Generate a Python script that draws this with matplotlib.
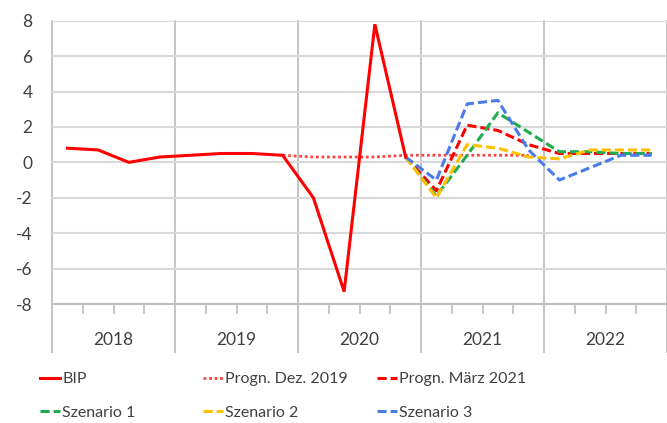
import numpy as np
import matplotlib.pyplot as plt

plt.rcParams['font.family'] = ['Lato', 'DejaVu Sans']
plt.rcParams['axes.unicode_minus'] = False

# Daten (Quartale 2018Q1 - 2022Q4)
years = ['2018', '2019', '2020', '2021', '2022']
bip = [0.8, 0.7, 0.0, 0.3, 0.4, 0.5, 0.5, 0.4, -2.0, -7.3, 7.8, 0.3]          # 2018Q1-2020Q4
progn_dez2019 = [0.4, 0.3, 0.3, 0.3, 0.4, 0.4, 0.4, 0.4, 0.4]                 # 2019Q4-2021Q4
progn_mar2021 = [0.3, -1.6, 2.1, 1.8, 1.0, 0.5, 0.5, 0.5, 0.5]                # 2020Q4-2022Q4
szenario1 = [0.3, -1.9, 0.4, 2.8, 1.7, 0.6, 0.6, 0.5, 0.5]
szenario2 = [0.3, -2.0, 1.0, 0.8, 0.3, 0.2, 0.7, 0.7, 0.7]
szenario3 = [0.3, -1.0, 3.3, 3.5, 0.7, -1.0, -0.3, 0.4, 0.4]

x_all = np.arange(20) + 0.5
x_bip = x_all[:12]
x_dez = x_all[7:16]
x_fc = x_all[11:20]

fig = plt.figure(figsize=(6.67, 4.23), dpi=100)
ax = fig.add_axes([52 / 667, 1 - 304 / 423, 1 - 52 / 667, (304 - 20.7) / 423])

lw = 2.2
dash = (3.0, 1.3)
red = '#FF0000'
l_dez, = ax.plot(x_dez, progn_dez2019, color='#FF4040', lw=2.0, linestyle=(0, (1, 1)))
l_mar, = ax.plot(x_fc, progn_mar2021, color=red, lw=lw, linestyle=(0, dash))
l_s1, = ax.plot(x_fc, szenario1, color='#1FAE4F', lw=lw, linestyle=(0, dash))
l_s2, = ax.plot(x_fc, szenario2, color='#FFC000', lw=lw, linestyle=(0, dash))
l_s3, = ax.plot(x_fc, szenario3, color='#4A7BEA', lw=lw, linestyle=(0, dash))
l_bip, = ax.plot(x_bip, bip, color=red, lw=lw, solid_joinstyle='miter')

ax.set_xlim(0, 20)
ax.set_ylim(-8, 8)
ax.set_yticks(np.arange(-8, 9, 2))
ax.yaxis.grid(True, color='#D9D9D9', lw=1.5)
ax.set_axisbelow(True)
for s in ax.spines.values():
    s.set_visible(False)
ax.tick_params(axis='y', length=0, labelsize=12.5, labelcolor='#404040', pad=14)

# Quartals-Ticks
ax.set_xticks([q for q in range(1, 20) if q % 4 != 0])
ax.set_xticklabels([])
ax.tick_params(axis='x', length=7, width=1.2, color='#BFBFBF', direction='out')
ax.axhline(-8, color='#BFBFBF', lw=1.5, clip_on=False)

# Jahreslinien und Beschriftung
for i in range(6):
    ax.axvline(i * 4, ymin=-0.17, ymax=1, color='#BFBFBF', lw=1.3, clip_on=False, zorder=0)
for i, y in enumerate(years):
    ax.text(i * 4 + 2, -0.128, y, transform=ax.get_xaxis_transform(),
            ha='center', va='center', fontsize=12.5, color='#404040')

# Legende
cols = [([l_bip, l_s1], ['BIP', 'Szenario 1'], 40),
        ([l_dez, l_s2], ['Progn. Dez. 2019', 'Szenario 2'], 203),
        ([l_mar, l_s3], ['Progn. März 2021', 'Szenario 3'], 377)]
for handles, labels, xp in cols:
    fig.legend(handles, labels, loc='upper left', bbox_to_anchor=(xp / 667, 1 - 372 / 423),
               frameon=False, fontsize=11.5, handlelength=1.25, handletextpad=0.15,
               labelspacing=1.2, borderpad=0, borderaxespad=0, labelcolor='#404040')

plt.savefig('out.png', dpi=100)
